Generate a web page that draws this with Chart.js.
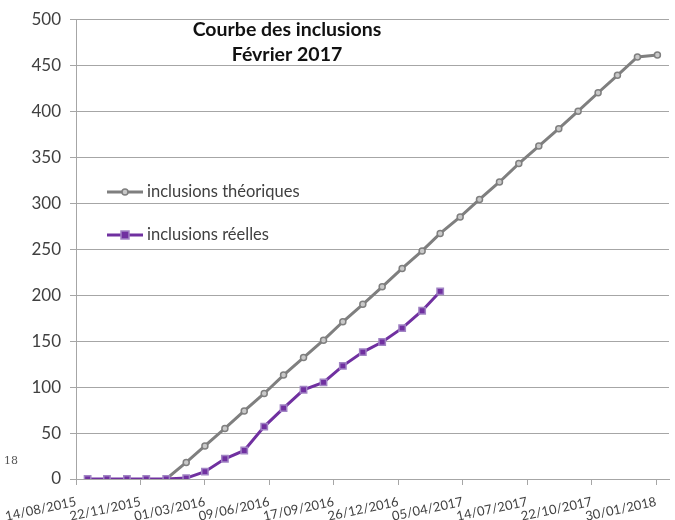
<!DOCTYPE html>
<html>
<head>
<meta charset="utf-8">
<script src="https://cdn.jsdelivr.net/npm/chart.js@4"></script>
<style>
  body { margin: 0; background: #fff; }
  #wrap { position: relative; width: 675px; height: 520px; }
</style>
</head>
<body>
<div id="wrap"><canvas id="myChart" width="675" height="520"></canvas></div>
<script>
// start of the date axis (Excel serial axis, 100 days per major tick)
const axisStart = '2015-08-14'
const tickLabels = ['14/08/2015', '22/11/2015', '01/03/2016', '09/06/2016', '17/09/2016',
    '26/12/2016', '05/04/2017', '14/07/2017', '22/10/2017', '30/01/2018']

const months = ['2015-09-01', '2015-10-01', '2015-11-01', '2015-12-01',
    '2016-01-01', '2016-02-01', '2016-03-01', '2016-04-01', '2016-05-01', '2016-06-01',
    '2016-07-01', '2016-08-01', '2016-09-01', '2016-10-01', '2016-11-01', '2016-12-01',
    '2017-01-01', '2017-02-01', '2017-03-01', '2017-04-01', '2017-05-01', '2017-06-01',
    '2017-07-01', '2017-08-01', '2017-09-01', '2017-10-01', '2017-11-01', '2017-12-01',
    '2018-01-01', '2018-02-01']

const theoriques = [null, null, null, null,
    0, 18, 36, 55, 74, 93, 113, 132, 151, 171, 190, 209,
    229, 248, 267, 285, 304, 323, 343, 362, 381, 400, 420, 439,
    459, 461]

const reelles = [0, 0, 0, 0,
    0, 1, 8, 22, 31, 57, 77, 97, 105, 123, 138, 149,
    164, 183, 204]

const titleLines = ['Courbe des inclusions', 'Février 2017']
const seriesNames = ['inclusions théoriques', 'inclusions réelles']

function daysFrom(d) {
    const a = Date.parse(axisStart + 'T00:00:00Z')
    const b = Date.parse(d + 'T00:00:00Z')
    return Math.round((b - a) / 86400000)
}

function toPoints(vals) {
    return vals.map((v, i) => ({x: daysFrom(months[i]), y: v}))
}

const gray = '#7f7f7f'
const purple = '#7030a0'

// title + legend are drawn inside the plot area, like in the excel sheet
const overlay = {
    id: 'overlay',
    afterDraw(chart) {
        const ctx = chart.ctx
        ctx.save()
        ctx.fillStyle = '#111'
        ctx.font = 'bold 19.5px Lato'
        ctx.textAlign = 'center'
        ctx.textBaseline = 'middle'
        ctx.fillText(titleLines[0], 287, 30)
        ctx.fillText(titleLines[1], 287, 55)

        const items = [
            {y: 192, color: gray, style: 'circle'},
            {y: 235, color: purple, style: 'rect'}
        ]
        items.forEach((it, i) => {
            const ds = chart.data.datasets[i]
            ctx.strokeStyle = it.color
            ctx.lineWidth = 3
            ctx.beginPath()
            ctx.moveTo(107, it.y)
            ctx.lineTo(143, it.y)
            ctx.stroke()
            ctx.fillStyle = ds.pointBackgroundColor
            ctx.strokeStyle = ds.pointBorderColor
            ctx.lineWidth = 1.5
            if (it.style == 'circle') {
                ctx.beginPath()
                ctx.arc(125, it.y, 3, 0, Math.PI * 2)
                ctx.fill()
                ctx.stroke()
            } else {
                ctx.fillRect(121, it.y - 4, 8, 8)
                ctx.strokeRect(121, it.y - 4, 8, 8)
            }
            ctx.fillStyle = '#404040'
            ctx.font = '16.5px Lato'
            ctx.textAlign = 'left'
            ctx.fillText(ds.label, 147, it.y)
        })

        // leftover bit of a neighbouring label on the left edge
        ctx.fillStyle = '#555'
        ctx.font = '11px "DejaVu Serif"'
        ctx.fillText('18', 4, 461)
        ctx.restore()
    }
}

const ctx = document.getElementById('myChart').getContext('2d')
const myChart = new Chart(ctx, {
    type: 'line',
    data: {
        datasets: [
            {
                label: seriesNames[0],
                data: toPoints(theoriques),
                borderColor: gray,
                borderWidth: 3,
                pointStyle: 'circle',
                pointRadius: 3,
                pointBackgroundColor: '#c9c9c9',
                pointBorderColor: gray,
                pointBorderWidth: 1.5,
                order: 1
            },
            {
                label: seriesNames[1],
                data: toPoints(reelles),
                borderColor: purple,
                borderWidth: 3,
                pointStyle: 'rect',
                pointRadius: 4.5,
                pointBackgroundColor: purple,
                pointBorderColor: '#a184c4',
                pointBorderWidth: 1.5,
                order: 0
            }
        ]
    },
    options: {
        responsive: false,
        animation: false,
        layout: {padding: {top: 18, right: 4, left: 0, bottom: 0}},
        plugins: {
            legend: {display: false},
            title: {display: false},
            tooltip: {enabled: false}
        },
        scales: {
            x: {
                type: 'linear',
                min: 0,
                max: 920,
                afterBuildTicks: s => { s.ticks = tickLabels.map((t, i) => ({value: i * 100})) },
                afterFit: s => {
                    s.height = 41
                    s.paddingLeft = 0
                    s.paddingRight = 0
                },
                grid: {drawOnChartArea: false, drawTicks: true, tickLength: 6, color: '#a6a6a6'},
                border: {color: '#a6a6a6', width: 1},
                ticks: {
                    autoSkip: false,
                    minRotation: 12,
                    maxRotation: 12,
                    padding: 9,
                    color: '#404040',
                    font: {family: 'Lato', size: 13},
                    callback: (v, i) => tickLabels[i]
                }
            },
            y: {
                min: 0,
                max: 500,
                afterFit: s => { s.width = 76 },
                grid: {color: '#a6a6a6', lineWidth: 1, tickLength: 6},
                border: {color: '#a6a6a6', width: 1},
                ticks: {
                    stepSize: 50,
                    padding: 9,
                    color: '#404040',
                    font: {family: 'Lato', size: 17}
                }
            }
        }
    },
    plugins: [overlay]
})
</script>
</body>
</html>
